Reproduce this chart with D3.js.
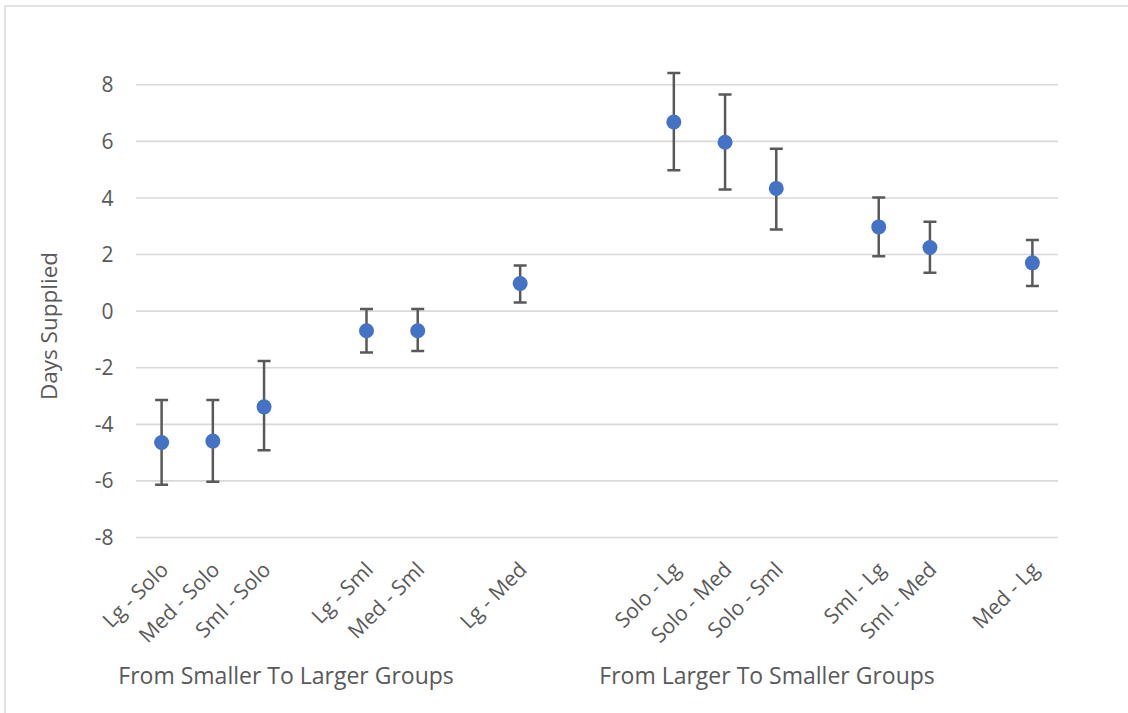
<!DOCTYPE html>
<html>
<head>
<meta charset="utf-8">
<script src="https://cdn.jsdelivr.net/npm/d3@7"></script>
<style>
  html, body { margin: 0; padding: 0; background: #fff; }
  svg { display: block; font-family: "Open Sans", Lato, sans-serif; }
</style>
</head>
<body>
<svg id="chart" width="1128" height="713"></svg>
<script>
// Pairwise differences in days supplied; blank entries are spacer slots.
const categories = ["Lg - Solo", "Med - Solo", "Sml - Solo", "", "Lg - Sml", "Med - Sml", "", "Lg - Med", "", "",
                    "Solo - Lg", "Solo - Med", "Solo - Sml", "", "Sml - Lg", "Sml - Med", "", "Med - Lg"];
const estimates = [-4.66, -4.61, -3.40, null, -0.71, -0.71, null, 0.96, null, null,
                   6.67, 5.95, 4.32, null, 2.96, 2.23, null, 1.69];
const upperCI   = [-3.16, -3.16, -1.78, null, 0.06, 0.06, null, 1.60, null, null,
                   8.40, 7.64, 5.72, null, 4.00, 3.14, null, 2.50];
const lowerCI   = [-6.15, -6.05, -4.93, null, -1.48, -1.43, null, 0.29, null, null,
                   4.96, 4.28, 2.87, null, 1.92, 1.34, null, 0.87];
const yTicks = [-8, -6, -4, -2, 0, 2, 4, 6, 8];
const groupLabels = ["From Smaller To Larger Groups", "From Larger To Smaller Groups"];
const yTitle = "Days Supplied";

const svg = d3.select("#chart");
const textColor = "#595959";
const plot = { left: 136, right: 1058, top: 84.3, bottom: 537 };

// chart-area frame (top and left edges)
svg.append("path")
  .attr("d", "M5,713 V6 H1128")
  .attr("fill", "none")
  .attr("stroke", "#d9d9d9")
  .attr("stroke-width", 1.5);

const x = d3.scaleBand()
  .domain(d3.range(categories.length))
  .range([plot.left, plot.right])
  .paddingInner(0).paddingOuter(0);
const cx = i => x(i) + x.bandwidth() / 2;

const y = d3.scaleLinear().domain([-8, 8]).range([plot.bottom, plot.top]);

// horizontal gridlines + tick labels
const yAxis = d3.axisLeft(y)
  .tickValues(yTicks)
  .tickSize(-(plot.right - plot.left))
  .tickPadding(22.5)
  .tickFormat(d3.format("d"));
const gy = svg.append("g")
  .attr("transform", `translate(${plot.left},0)`)
  .call(yAxis);
gy.select(".domain").remove();
gy.selectAll(".tick line").attr("stroke", "#d9d9d9").attr("stroke-width", 1.6);
gy.selectAll(".tick text")
  .attr("fill", textColor)
  .attr("font-size", 21)
  .attr("font-family", "'Open Sans', sans-serif")
  .attr("dy", "0.36em")
  .text(d => d < 0 ? "-" + Math.abs(d) : d);

// y-axis title
svg.append("text")
  .attr("transform", "translate(57,326) rotate(-90)")
  .attr("text-anchor", "middle")
  .attr("fill", textColor)
  .attr("font-size", 22.5)
  .text(yTitle);

// category labels, rotated 45 degrees
svg.append("g").selectAll("text")
  .data(categories.map((c, i) => ({ c, i })).filter(d => d.c !== ""))
  .join("text")
  .attr("transform", d => `translate(${cx(d.i) + 8},${571}) rotate(-45)`)
  .attr("text-anchor", "end")
  .attr("fill", textColor)
  .attr("font-size", 21)
  .text(d => d.c);

// group captions below the categories
const groupCenters = [plot.left + 2.93 * x.bandwidth(), plot.left + 12.32 * x.bandwidth()];
svg.append("g").selectAll("text")
  .data(groupLabels)
  .join("text")
  .attr("x", (d, i) => groupCenters[i])
  .attr("y", 684)
  .attr("text-anchor", "middle")
  .attr("fill", textColor)
  .attr("font-size", 23)
  .text(d => d);

// error bars
const rows = estimates.map((v, i) => ({ i, v, lo: lowerCI[i], hi: upperCI[i] })).filter(d => d.v !== null);
const capHalf = 6.5;
const eb = svg.append("g")
  .attr("stroke", "#595959")
  .attr("stroke-width", 2.5)
  .attr("fill", "none");
eb.selectAll("path")
  .data(rows)
  .join("path")
  .attr("d", d => {
    const px = cx(d.i), yh = y(d.hi), yl = y(d.lo);
    return `M${px},${yh} V${yl} M${px - capHalf},${yh} H${px + capHalf} M${px - capHalf},${yl} H${px + capHalf}`;
  });

// point estimates
svg.append("g").selectAll("circle")
  .data(rows)
  .join("circle")
  .attr("cx", d => cx(d.i))
  .attr("cy", d => y(d.v))
  .attr("r", 7.5)
  .attr("fill", "#4472C4");
</script>
</body>
</html>
